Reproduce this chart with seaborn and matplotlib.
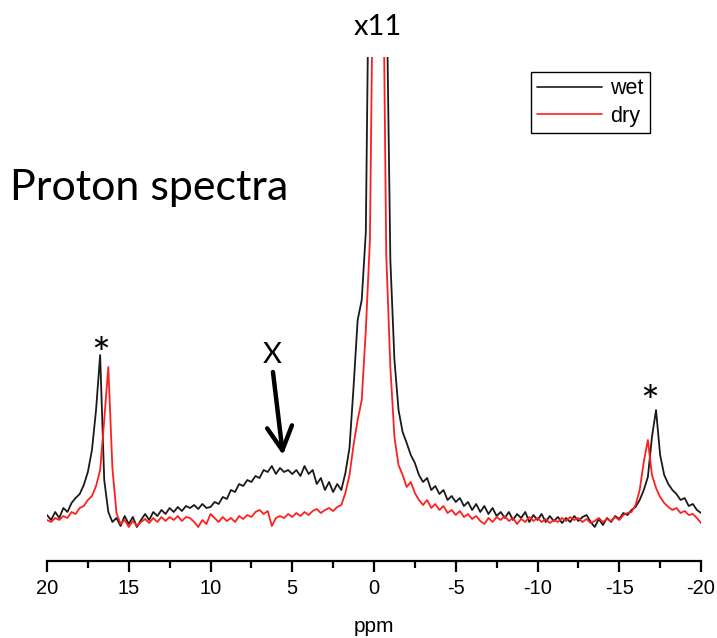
import numpy as np
import pandas as pd
import matplotlib
matplotlib.use("Agg")
import matplotlib.pyplot as plt
import seaborn as sns
from matplotlib.ticker import MultipleLocator

# ---- data (intensity in arbitrary units, central peak clipped) ----
ppm = np.round(np.arange(20.0, -20.001, -0.25), 2)

wet = [
    47, 42, 50, 44,
    54, 50, 59, 64,
    68, 77, 90, 112,
    152, 207, 82, 50,
    40, 44, 36, 46,
    38, 45, 35, 42,
    48, 42, 50, 46,
    52, 48, 54, 50,
    55, 51, 56, 54,
    57, 53, 58, 54,
    55, 60, 58, 65,
    63, 72, 70, 78,
    76, 82, 80, 86,
    84, 92, 90, 96,
    88, 94, 90, 92,
    88, 92, 86, 96,
    88, 92, 78, 84,
    72, 80, 70, 78,
    72, 89, 114, 175,
    242, 262, 330, 700,
    3000, 3000, 1500, 600,
    302, 202, 152, 130,
    119, 107, 99, 87,
    80, 84, 72, 76,
    68, 72, 62, 66,
    60, 64, 56, 60,
    52, 58, 50, 56,
    48, 54, 46, 50,
    44, 50, 42, 48,
    44, 50, 40, 47,
    42, 48, 40, 46,
    41, 45, 39, 44,
    40, 46, 41, 45,
    47, 40, 35, 43,
    37, 44, 40, 46,
    43, 49, 47, 52,
    55, 62, 72, 85,
    125, 152, 107, 87,
    78, 72, 68, 62,
    64, 56, 58, 52,
    49,
]

dry = [
    42, 40, 44, 42,
    46, 44, 50, 48,
    54, 56, 62, 66,
    76, 92, 142, 195,
    94, 49, 38, 42,
    35, 41, 36, 40,
    43, 39, 44, 40,
    45, 41, 45, 42,
    46, 41, 45, 44,
    40, 35, 42, 38,
    48, 44, 40, 45,
    41, 44, 40, 46,
    43, 47, 45, 50,
    52, 48, 51, 36,
    44, 46, 44, 48,
    45, 49, 46, 50,
    47, 51, 53, 49,
    52, 54, 51, 55,
    57, 69, 87, 117,
    142, 162, 232, 322,
    690, 3000, 700, 307,
    195, 125, 97, 87,
    75, 80, 69, 62,
    57, 62, 54, 58,
    52, 56, 49, 52,
    47, 51, 45, 48,
    43, 46, 41, 38,
    44, 40, 45, 42,
    46, 41, 44, 38,
    43, 40, 45, 41,
    44, 40, 43, 39,
    42, 40, 44, 41,
    45, 42, 44, 40,
    43, 39, 41, 44,
    40, 43, 41, 45,
    42, 47, 49, 50,
    57, 72, 100, 122,
    87, 74, 65, 59,
    55, 52, 54, 49,
    51, 47, 48, 44,
    39,
]

series_names = ["wet", "dry"]
series_colors = ["#1a1a1a", "#ff1f1f"]
xticks = [20, 15, 10, 5, 0, -5, -10, -15, -20]
xticklabels = ["20", "15", "10", "5", "0", "-5", "-10", "-15", "-20"]

df = pd.concat([
    pd.DataFrame({"ppm": ppm, "intensity": wet, "sample": "wet"}),
    pd.DataFrame({"ppm": ppm, "intensity": dry, "sample": "dry"}),
], ignore_index=True)

# ---- figure ----
sns.set_style("white")
plt.rcParams["font.family"] = ["Liberation Sans", "DejaVu Sans"]
plt.rcParams["text.color"] = "black"
plt.rcParams["axes.labelcolor"] = "black"

W, H = 717, 638
fig = plt.figure(figsize=(W / 100, H / 100), dpi=100)
ax = fig.add_axes([47 / W, 1 - 561 / H, (701 - 47) / W, (561 - 57) / H])

sns.lineplot(data=df, x="ppm", y="intensity", hue="sample",
             palette=dict(zip(series_names, series_colors)),
             hue_order=series_names, errorbar=None, linewidth=1.3,
             ax=ax, legend=True)

ax.set_xlim(20, -20)
ax.set_ylim(1, 505)
ax.set_xticks(xticks)
ax.set_xticklabels(xticklabels)
ax.xaxis.set_minor_locator(MultipleLocator(2.5))
ax.set_yticks([])
ax.set_ylabel("")
ax.set_xlabel("ppm", fontsize=15, labelpad=14, color="black")
for s in ["left", "right", "top"]:
    ax.spines[s].set_visible(False)
ax.spines["bottom"].set_linewidth(1.6)
ax.spines["bottom"].set_color("black")
ax.tick_params(axis="x", which="major", direction="out", length=8, width=1.6,
               labelsize=14.5, pad=5, colors="black", bottom=True)
ax.tick_params(axis="x", which="minor", direction="out", length=5, width=1.6,
               bottom=True, colors="black")
ax.patch.set_alpha(0)

# legend
handles, labels = ax.get_legend_handles_labels()
leg = ax.legend(handles, labels, loc="upper right",
                bbox_to_anchor=(650 / W, 1 - 72 / H), bbox_transform=fig.transFigure,
                frameon=True, fancybox=False, edgecolor="black", framealpha=1,
                fontsize=15.5, handlelength=3.0, handletextpad=0.4,
                borderpad=0.3, labelspacing=0.3, borderaxespad=0)
leg.get_frame().set_linewidth(1.0)
for line in leg.get_lines():
    line.set_linewidth(1.2)

# annotations
tfont = ["Lato", "DejaVu Sans"]
fig.text(10 / W, 1 - 200 / H, "Proton spectra", fontsize=31, family=tfont,
         ha="left", va="baseline", color="black")
ax.text(-0.24, 527, "x11", fontsize=21, family=tfont, ha="center",
        va="baseline", clip_on=False, color="black")
ax.text(6.24, 199, "X", fontsize=21, family=tfont, ha="center", va="baseline",
        color="black")
ax.text(16.7, 193, "*", fontsize=32, family=tfont, ha="center", va="baseline",
        color="black")
ax.text(-16.88, 145, "*", fontsize=32, family=tfont, ha="center", va="baseline",
        color="black")
ax.annotate("", xy=(5.57, 107), xytext=(6.18, 190),
            arrowprops=dict(arrowstyle="->,head_length=0.85,head_width=0.45",
                            lw=3.2, color="black", shrinkA=0, shrinkB=0,
                            mutation_scale=20))

fig.savefig("out.png", dpi=100)
